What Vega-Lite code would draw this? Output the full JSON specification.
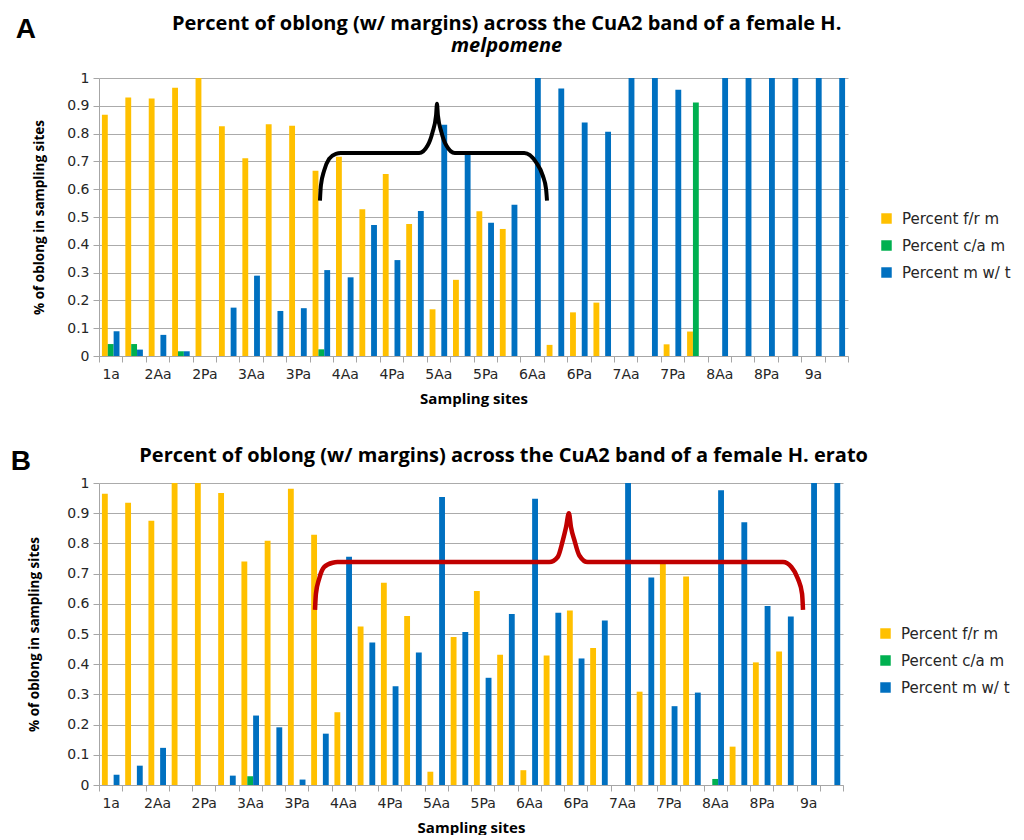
{
  "$schema": "https://vega.github.io/schema/vega-lite/v6.json",
  "background": "white",
  "padding": {"left": 10, "top": 14, "right": 4, "bottom": 0},
  "spacing": 40,
  "datasets": {
    "melp": [
      {"site": "1a", "fr": 0.868, "ca": 0.043, "mw": 0.089},
      {"site": "1p", "fr": 0.93, "ca": 0.043, "mw": 0.023},
      {"site": "2Aa", "fr": 0.926, "ca": 0, "mw": 0.076},
      {"site": "2Ap", "fr": 0.965, "ca": 0.017, "mw": 0.017},
      {"site": "2Pa", "fr": 1.0, "ca": 0, "mw": 0},
      {"site": "2Pp", "fr": 0.826, "ca": 0, "mw": 0.174},
      {"site": "3Aa", "fr": 0.711, "ca": 0, "mw": 0.289},
      {"site": "3Ap", "fr": 0.834, "ca": 0, "mw": 0.162},
      {"site": "3Pa", "fr": 0.828, "ca": 0, "mw": 0.172},
      {"site": "3Pp", "fr": 0.666, "ca": 0.024, "mw": 0.309},
      {"site": "4Aa", "fr": 0.717, "ca": 0, "mw": 0.283},
      {"site": "4Ap", "fr": 0.528, "ca": 0, "mw": 0.471},
      {"site": "4Pa", "fr": 0.655, "ca": 0, "mw": 0.345},
      {"site": "4Pp", "fr": 0.475, "ca": 0, "mw": 0.522},
      {"site": "5Aa", "fr": 0.168, "ca": 0, "mw": 0.832},
      {"site": "5Ap", "fr": 0.274, "ca": 0, "mw": 0.726},
      {"site": "5Pa", "fr": 0.521, "ca": 0, "mw": 0.479},
      {"site": "5Pp", "fr": 0.457, "ca": 0, "mw": 0.544},
      {"site": "6Aa", "fr": 0, "ca": 0, "mw": 1.0},
      {"site": "6Ap", "fr": 0.04, "ca": 0, "mw": 0.962},
      {"site": "6Pa", "fr": 0.157, "ca": 0, "mw": 0.84},
      {"site": "6Pp", "fr": 0.192, "ca": 0, "mw": 0.807},
      {"site": "7Aa", "fr": 0, "ca": 0, "mw": 1.0},
      {"site": "7Ap", "fr": 0, "ca": 0, "mw": 1.0},
      {"site": "7Pa", "fr": 0.042, "ca": 0, "mw": 0.958},
      {"site": "7Pp", "fr": 0.088, "ca": 0.912, "mw": 0},
      {"site": "8Aa", "fr": 0, "ca": 0, "mw": 1.0},
      {"site": "8Ap", "fr": 0, "ca": 0, "mw": 1.0},
      {"site": "8Pa", "fr": 0, "ca": 0, "mw": 1.0},
      {"site": "8Pp", "fr": 0, "ca": 0, "mw": 1.0},
      {"site": "9a", "fr": 0, "ca": 0, "mw": 1.0},
      {"site": "9p", "fr": 0, "ca": 0, "mw": 1.0}
    ],
    "erato": [
      {"site": "1a", "fr": 0.964, "ca": 0, "mw": 0.034},
      {"site": "1p", "fr": 0.935, "ca": 0, "mw": 0.064},
      {"site": "2Aa", "fr": 0.875, "ca": 0, "mw": 0.123},
      {"site": "2Ap", "fr": 1.0, "ca": 0, "mw": 0},
      {"site": "2Pa", "fr": 1.0, "ca": 0, "mw": 0},
      {"site": "2Pp", "fr": 0.967, "ca": 0, "mw": 0.031},
      {"site": "3Aa", "fr": 0.74, "ca": 0.029, "mw": 0.23},
      {"site": "3Ap", "fr": 0.809, "ca": 0, "mw": 0.191},
      {"site": "3Pa", "fr": 0.981, "ca": 0, "mw": 0.018},
      {"site": "3Pp", "fr": 0.829, "ca": 0, "mw": 0.17},
      {"site": "4Aa", "fr": 0.241, "ca": 0, "mw": 0.756},
      {"site": "4Ap", "fr": 0.525, "ca": 0, "mw": 0.472},
      {"site": "4Pa", "fr": 0.67, "ca": 0, "mw": 0.327},
      {"site": "4Pp", "fr": 0.56, "ca": 0, "mw": 0.439},
      {"site": "5Aa", "fr": 0.044, "ca": 0, "mw": 0.954},
      {"site": "5Ap", "fr": 0.49, "ca": 0, "mw": 0.507},
      {"site": "5Pa", "fr": 0.642, "ca": 0, "mw": 0.355},
      {"site": "5Pp", "fr": 0.431, "ca": 0, "mw": 0.566},
      {"site": "6Aa", "fr": 0.049, "ca": 0, "mw": 0.948},
      {"site": "6Ap", "fr": 0.429, "ca": 0, "mw": 0.57},
      {"site": "6Pa", "fr": 0.578, "ca": 0, "mw": 0.419},
      {"site": "6Pp", "fr": 0.454, "ca": 0, "mw": 0.545},
      {"site": "7Aa", "fr": 0, "ca": 0, "mw": 1.0},
      {"site": "7Ap", "fr": 0.309, "ca": 0, "mw": 0.687},
      {"site": "7Pa", "fr": 0.735, "ca": 0, "mw": 0.261},
      {"site": "7Pp", "fr": 0.69, "ca": 0, "mw": 0.306},
      {"site": "8Aa", "fr": 0, "ca": 0.02, "mw": 0.976},
      {"site": "8Ap", "fr": 0.127, "ca": 0, "mw": 0.87},
      {"site": "8Pa", "fr": 0.406, "ca": 0, "mw": 0.593},
      {"site": "8Pp", "fr": 0.442, "ca": 0, "mw": 0.558},
      {"site": "9a", "fr": 0, "ca": 0, "mw": 1.0},
      {"site": "9p", "fr": 0, "ca": 0, "mw": 1.0}
    ],
    "braceA": [
      {"p": 9.44, "v": 0.559}, {"p": 9.48, "v": 0.613}, {"p": 9.62, "v": 0.667}, {"p": 9.83, "v": 0.709},
      {"p": 10.12, "v": 0.727}, {"p": 10.33, "v": 0.73}, {"p": 13.68, "v": 0.73}, {"p": 14.04, "v": 0.757},
      {"p": 14.25, "v": 0.805}, {"p": 14.4, "v": 0.865}, {"p": 14.44, "v": 0.907}, {"p": 14.48, "v": 0.865},
      {"p": 14.63, "v": 0.805}, {"p": 14.84, "v": 0.757}, {"p": 15.2, "v": 0.73}, {"p": 18.17, "v": 0.73},
      {"p": 18.67, "v": 0.697}, {"p": 18.96, "v": 0.649}, {"p": 19.1, "v": 0.601}, {"p": 19.14, "v": 0.559}
    ],
    "braceB": [
      {"p": 9.29, "v": 0.58}, {"p": 9.33, "v": 0.633}, {"p": 9.47, "v": 0.683}, {"p": 9.69, "v": 0.722},
      {"p": 10.05, "v": 0.736}, {"p": 10.26, "v": 0.738}, {"p": 19.37, "v": 0.738}, {"p": 19.73, "v": 0.755},
      {"p": 19.95, "v": 0.81}, {"p": 20.09, "v": 0.854}, {"p": 20.21, "v": 0.9}, {"p": 20.3, "v": 0.854},
      {"p": 20.45, "v": 0.81}, {"p": 20.66, "v": 0.76}, {"p": 21.02, "v": 0.738}, {"p": 29.42, "v": 0.738},
      {"p": 29.78, "v": 0.722}, {"p": 30.06, "v": 0.683}, {"p": 30.24, "v": 0.633}, {"p": 30.28, "v": 0.58}
    ]
  },
  "vconcat": [
    {
      "title": {"text": "A", "anchor": "start", "dx": -17, "font": "Liberation Sans", "fontSize": 28, "fontWeight": "bold", "color": "black", "offset": -30},
      "vconcat": [
        {
          "width": 749,
          "height": 278,
          "title": {
            "text": "Percent of oblong (w/ margins) across the CuA2 band of a female H.",
            "subtitle": "melpomene",
            "font": "Open Sans", "fontSize": 20, "fontWeight": "bold", "color": "black",
            "subtitleFont": "Open Sans", "subtitleFontSize": 20, "subtitleFontWeight": "bold", "subtitleFontStyle": "italic", "subtitleColor": "black",
            "subtitlePadding": 2, "anchor": "middle", "frame": "bounds", "offset": 15, "dx": 66
          },
          "resolve": {"scale": {"x": "independent"}},
          "layer": [
            {
              "data": {"name": "melp"},
              "transform": [{"fold": ["fr", "ca", "mw"], "as": ["series", "value"]}],
              "mark": {"type": "bar"},
              "encoding": {
                "x": {"field": "site", "type": "nominal", "sort": null, "scale": {"paddingInner": 0, "paddingOuter": 0},
                  "axis": {"title": "Sampling sites", "labelAngle": 0, "labelOverlap": false, "labelExpr": "isString(datum.value) && slice(datum.value, -1) != 'p' ? datum.value : ''", "grid": false, "tickBand": "extent"}},
                "xOffset": {"field": "series", "type": "nominal", "sort": ["fr", "ca", "mw"], "scale": {"paddingInner": 0, "paddingOuter": 0.5}},
                "y": {"field": "value", "type": "quantitative", "scale": {"domain": [0, 1]},
                  "axis": {"title": "% of oblong in sampling sites", "values": [0, 0.1, 0.2, 0.3, 0.4, 0.5, 0.6, 0.7, 0.8, 0.9, 1], "format": "~g", "labelOverlap": false, "titlePadding": 20}},
                "color": {"field": "series", "type": "nominal", "sort": ["fr", "ca", "mw"],
                  "scale": {"domain": ["fr", "ca", "mw"], "range": ["#FFC000", "#00B050", "#0070C0"]},
                  "legend": {"title": null, "orient": "none", "legendX": 780, "legendY": 133, "labelExpr": "datum.value == 'fr' ? 'Percent f/r m' : datum.value == 'ca' ? 'Percent c/a m' : 'Percent m w/ t'"}}
              }
            },
            {
              "data": {"name": "braceA"},
              "mark": {"type": "line", "color": "black", "strokeWidth": 4, "interpolate": "monotone"},
              "encoding": {
                "x": {"field": "p", "type": "quantitative", "scale": {"domain": [0, 32], "nice": false, "zero": false}, "axis": null},
                "y": {"field": "v", "type": "quantitative",
                  "axis": {"title": "% of oblong in sampling sites", "values": [0, 0.1, 0.2, 0.3, 0.4, 0.5, 0.6, 0.7, 0.8, 0.9, 1], "format": "~g", "labelOverlap": false, "titlePadding": 20}}
              }
            }
          ]
        }
      ]
    },
    {
      "title": {"text": "B", "anchor": "start", "dx": -17, "font": "Liberation Sans", "fontSize": 28, "fontWeight": "bold", "color": "black", "offset": -30},
      "vconcat": [
        {
          "width": 744,
          "height": 302,
          "title": {
            "text": "Percent of oblong (w/ margins) across the CuA2 band of a female H. erato",
            "font": "Open Sans", "fontSize": 20, "fontWeight": "bold", "color": "black",
            "anchor": "middle", "frame": "bounds", "offset": 10, "dx": 68
          },
          "resolve": {"scale": {"x": "independent"}},
          "layer": [
            {
              "data": {"name": "erato"},
              "transform": [{"fold": ["fr", "ca", "mw"], "as": ["series", "value"]}],
              "mark": {"type": "bar"},
              "encoding": {
                "x": {"field": "site", "type": "nominal", "sort": null, "scale": {"paddingInner": 0, "paddingOuter": 0},
                  "axis": {"title": "Sampling sites", "labelAngle": 0, "labelOverlap": false, "labelExpr": "isString(datum.value) && slice(datum.value, -1) != 'p' ? datum.value : ''", "grid": false, "tickBand": "extent"}},
                "xOffset": {"field": "series", "type": "nominal", "sort": ["fr", "ca", "mw"], "scale": {"paddingInner": 0, "paddingOuter": 0.5}},
                "y": {"field": "value", "type": "quantitative", "scale": {"domain": [0, 1]},
                  "axis": {"title": "% of oblong in sampling sites", "values": [0, 0.1, 0.2, 0.3, 0.4, 0.5, 0.6, 0.7, 0.8, 0.9, 1], "format": "~g", "labelOverlap": false, "titlePadding": 25}},
                "color": {"field": "series", "type": "nominal", "sort": ["fr", "ca", "mw"],
                  "scale": {"domain": ["fr", "ca", "mw"], "range": ["#FFC000", "#00B050", "#0070C0"]},
                  "legend": {"title": null, "orient": "none", "legendX": 779, "legendY": 143, "labelExpr": "datum.value == 'fr' ? 'Percent f/r m' : datum.value == 'ca' ? 'Percent c/a m' : 'Percent m w/ t'"}}
              }
            },
            {
              "data": {"name": "braceB"},
              "mark": {"type": "line", "color": "#C00000", "strokeWidth": 4.5, "interpolate": "monotone"},
              "encoding": {
                "x": {"field": "p", "type": "quantitative", "scale": {"domain": [0, 32], "nice": false, "zero": false}, "axis": null},
                "y": {"field": "v", "type": "quantitative",
                  "axis": {"title": "% of oblong in sampling sites", "values": [0, 0.1, 0.2, 0.3, 0.4, 0.5, 0.6, 0.7, 0.8, 0.9, 1], "format": "~g", "labelOverlap": false, "titlePadding": 25}}
              }
            }
          ]
        }
      ]
    }
  ],
  "resolve": {"legend": {"color": "independent"}, "scale": {"color": "independent"}},
  "config": {
    "view": {"stroke": null},
    "axis": {
      "labelFont": "DejaVu Sans", "labelFontSize": 14, "labelColor": "#262626",
      "titleFont": "Open Sans", "titleFontWeight": "bold", "titleColor": "black",
      "domainColor": "#A6A6A6", "tickColor": "#A6A6A6", "gridColor": "#ABABAB", "tickSize": 6
    },
    "axisY": {"titleFontSize": 13.5, "labelPadding": 4},
    "axisX": {"titleFontSize": 15, "labelPadding": 5, "titlePadding": 10},
    "legend": {
      "symbolType": "square", "symbolSize": 110, "symbolStrokeWidth": 0,
      "labelFont": "DejaVu Sans", "labelFontSize": 15, "labelColor": "#262626", "rowPadding": 11, "labelOffset": 8
    }
  }
}
